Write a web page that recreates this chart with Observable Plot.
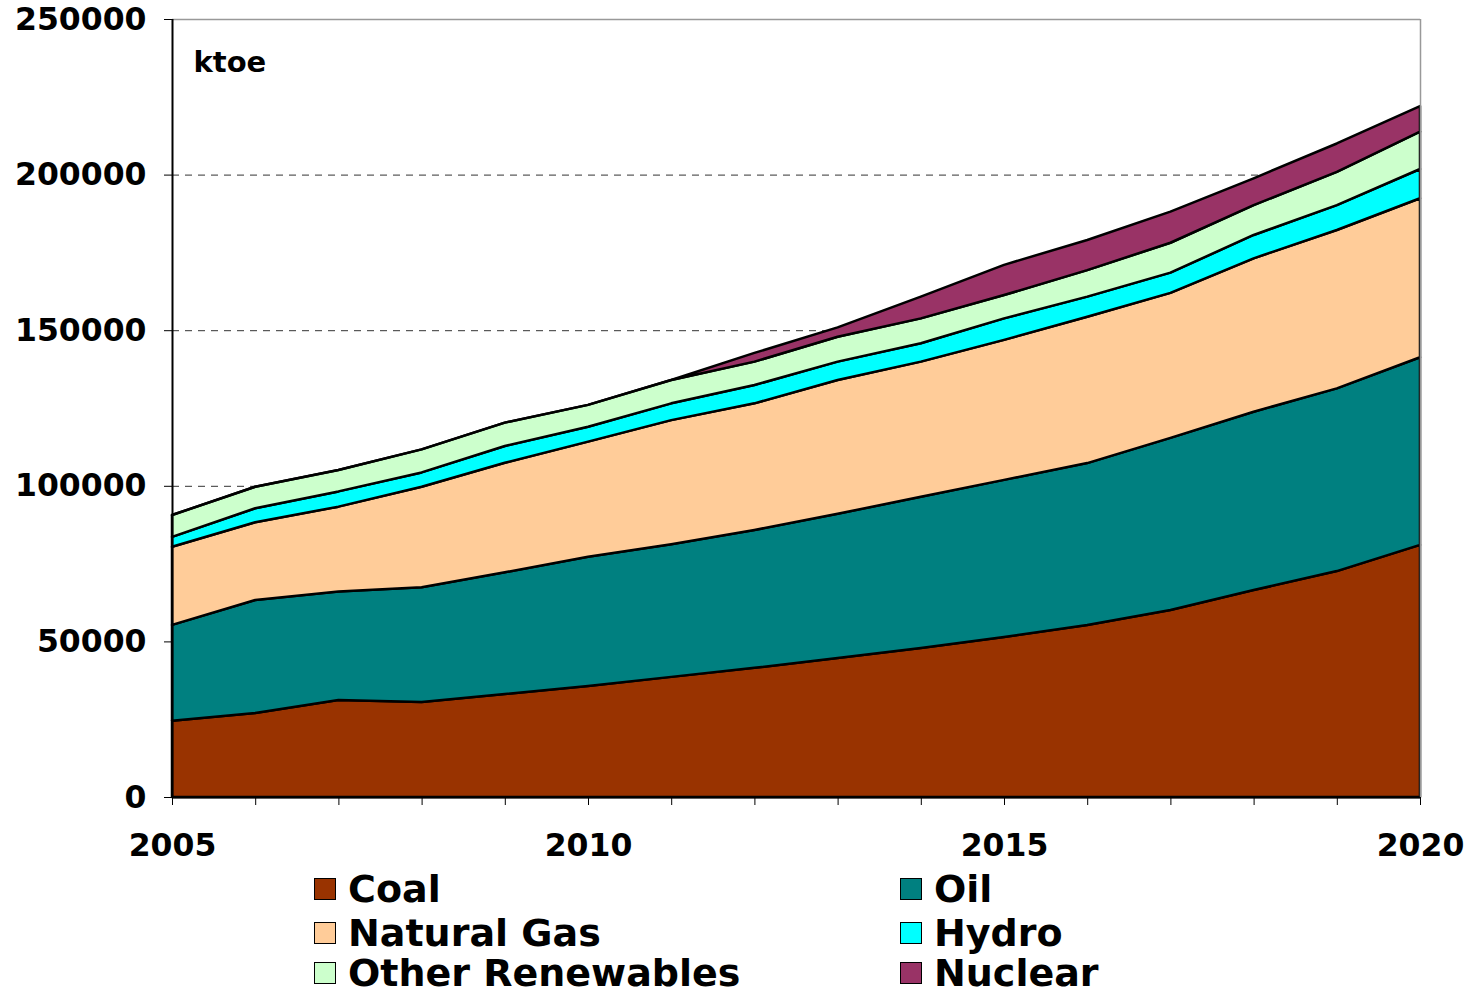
<!DOCTYPE html>
<html><head><meta charset="utf-8">
<script src="https://cdn.jsdelivr.net/npm/d3@7"></script>
<script src="https://cdn.jsdelivr.net/npm/@observablehq/plot@0.6"></script>
<style>
body{margin:0;background:#fff;font-family:"DejaVu Sans",Verdana,sans-serif;overflow:hidden;}
#chart svg{display:block;}
#legend{position:relative;width:1474px;height:129px;}
.item{position:absolute;display:flex;align-items:center;font-weight:bold;font-size:38px;line-height:1;height:38px;color:#000;}
.sw{width:20px;height:20px;border:1px solid #000;margin-right:12px;flex:none;}
</style></head><body>
<div id="chart"></div><div id="legend"></div>
<script>
const years = [2005,2006,2007,2008,2009,2010,2011,2012,2013,2014,2015,2016,2017,2018,2019,2020];
const sources = ["Coal","Oil","Natural Gas","Hydro","Other Renewables","Nuclear"];
const colors = ["#993300","#008080","#FFCC99","#00FFFF","#CCFFCC","#993366"];
const coal    = [24500,27000,31200,30500,33100,35700,38600,41500,44700,47900,51400,55300,60100,66500,72600,81000];
const oil     = [30800,36300,34800,36900,39100,41500,42600,44300,46300,48600,50500,52000,55300,57300,58700,60300];
const gas     = [25100,25000,27300,32300,35200,37000,39900,40700,43000,43400,45000,47000,46600,49300,50900,51100];
const hydro   = [3200,4500,4900,4600,5400,4800,5400,5900,5900,5900,6900,6500,6500,7500,8000,9400];
const otherRe = [7000,6900,6900,7400,7500,7000,7500,7500,8000,8000,7500,8500,9600,9600,10700,12000];
const nuclear = [0,0,0,0,0,0,0,2800,3000,7000,9700,9700,10000,8600,9100,8200];
const yTicks = [0,50000,100000,150000,200000,250000];
const xLabelTicks = [2005,2010,2015,2020];
const unitLabel = "ktoe";

const series = [coal, oil, gas, hydro, otherRe, nuclear];
const data = [];
sources.forEach((s, i) => years.forEach((y, j) => data.push({year: y, source: s, value: series[i][j]})));

const chart = Plot.plot({
  width: 1474, height: 865,
  marginLeft: 172, marginRight: 54, marginTop: 19, marginBottom: 68,
  style: {fontFamily: "DejaVu Sans, Verdana, sans-serif", fontWeight: "bold", fontSize: "31.5px", color: "#000", background: "#fff"},
  x: {domain: [2005, 2020]},
  y: {domain: [0, 250000]},
  color: {domain: sources, range: colors},
  marks: [
    Plot.ruleY(yTicks.filter(d => d > 0 && d < 250000), {stroke: "#333", strokeDasharray: "7,6", strokeWidth: 1}),
    Plot.areaY(data, {x: "year", y: "value", z: "source", fill: "source", order: sources, stroke: "#000", strokeWidth: 2.5, strokeLinejoin: "round"}),
    Plot.ruleY([250000], {stroke: "#999", strokeWidth: 1.5}),
    Plot.ruleX([2020], {stroke: "#999", strokeWidth: 1.5}),
    Plot.ruleX([2005], {stroke: "#000", strokeWidth: 2}),
    Plot.ruleY([0], {stroke: "#000", strokeWidth: 2}),
    Plot.axisY({ticks: yTicks, tickFormat: d => String(d), tickSize: 8, tickPadding: 18, label: null}),
    Plot.axisX({ticks: years, tickFormat: () => "", tickSize: 8, label: null}),
    Plot.axisX({ticks: xLabelTicks, tickFormat: d => String(d), tickSize: 0, tickPadding: 36, label: null}),
    Plot.text([unitLabel], {text: d => d, frameAnchor: "top-left", dx: 21, dy: 32, textAnchor: "start", lineAnchor: "top", fontSize: 29, fontWeight: "bold", fill: "#000"})
  ]
});
document.getElementById("chart").appendChild(chart);

const legend = document.getElementById("legend");
const cols = [314, 900];
const rows = [24, 68, 108];
sources.forEach((s, i) => {
  const it = document.createElement("div");
  it.className = "item";
  it.style.left = cols[i % 2] + "px";
  it.style.top = (rows[Math.floor(i / 2)] - 19) + "px";
  const sw = document.createElement("span");
  sw.className = "sw";
  sw.style.background = colors[i];
  it.appendChild(sw);
  it.appendChild(document.createTextNode(s));
  legend.appendChild(it);
});
</script>
</body></html>
